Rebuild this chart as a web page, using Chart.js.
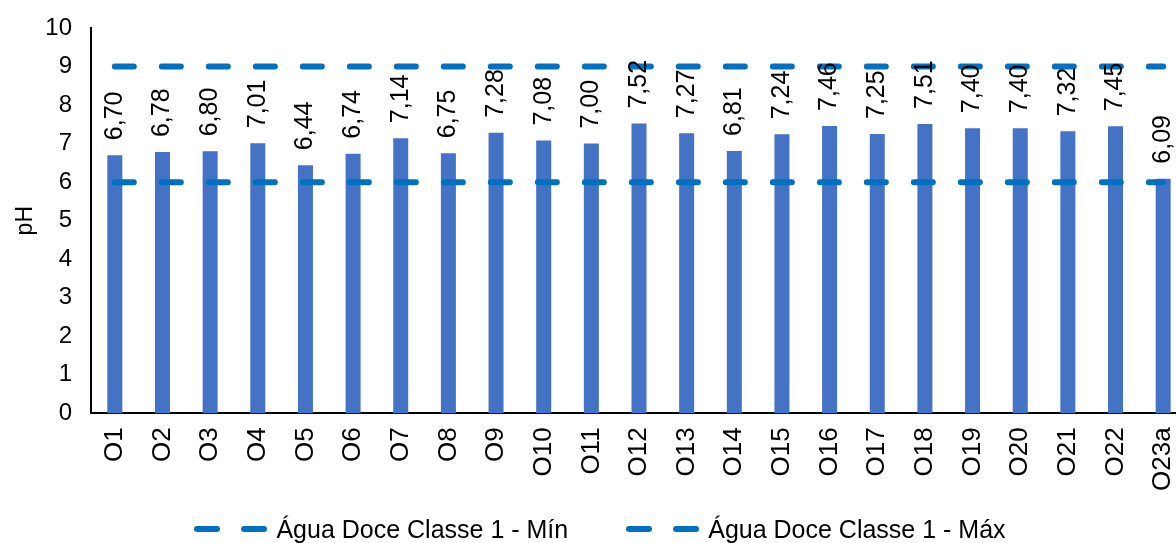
<!DOCTYPE html>
<html>
<head>
<meta charset="utf-8">
<script src="https://cdn.jsdelivr.net/npm/chart.js@4"></script>
<style>
  html, body { margin: 0; padding: 0; background: #fff; overflow: hidden; }
  #wrap { position: absolute; left: 0; top: 0; width: 1200px; height: 543px; }
  #legenda {
    position: absolute; left: 0; top: 515px; width: 1200px; height: 28px;
    display: flex; justify-content: center; align-items: center;
    font: 25px Arial, "Liberation Sans", sans-serif; color: #000;
  }
  #legenda .item { display: flex; align-items: center; margin: 0 29px; white-space: nowrap; }
  #legenda .simbolo { display: flex; align-items: center; width: 73px; justify-content: space-between; margin-right: 9px; }
  #legenda .traco { display: block; width: 26px; height: 6px; border-radius: 3px; }
</style>
</head>
<body>
<div id="wrap">
  <canvas id="chart-ph" width="1200" height="543"></canvas>
  <div id="legenda"></div>
</div>
<script>
// dados de pH por ponto de coleta
const pontos = ['O1', 'O2', 'O3', 'O4', 'O5', 'O6', 'O7', 'O8', 'O9', 'O10', 'O11', 'O12',
    'O13', 'O14', 'O15', 'O16', 'O17', 'O18', 'O19', 'O20', 'O21', 'O22', 'O23a'];
const valoresPH = [6.70, 6.78, 6.80, 7.01, 6.44, 6.74, 7.14, 6.75, 7.28, 7.08, 7.00, 7.52,
    7.27, 6.81, 7.24, 7.46, 7.25, 7.51, 7.40, 7.40, 7.32, 7.45, 6.09];
const limiteMin = pontos.map(() => 6);
const limiteMax = pontos.map(() => 9);
const ticksY = [0, 1, 2, 3, 4, 5, 6, 7, 8, 9, 10];

const fonte = 'Arial, "Liberation Sans", sans-serif';

// rótulos verticais acima das barras (vírgula decimal)
const rotulosBarras = {
    id: 'rotulosBarras',
    afterDatasetsDraw(chart) {
        const ctx = chart.ctx;
        const meta = chart.getDatasetMeta(2);
        ctx.save();
        ctx.font = '25px ' + fonte;
        ctx.fillStyle = '#000';
        ctx.textAlign = 'left';
        ctx.textBaseline = 'middle';
        meta.data.forEach((bar, i) => {
            ctx.save();
            ctx.translate(bar.x, bar.y - 15);
            ctx.rotate(-Math.PI / 2);
            ctx.fillText(valoresPH[i].toFixed(2).replace('.', ','), 0, 0);
            ctx.restore();
        });
        ctx.restore();
    }
};

// legenda em HTML (só as duas linhas de limite)
const legendaHtml = {
    id: 'legendaHtml',
    afterUpdate(chart) {
        const box = document.getElementById('legenda');
        box.innerHTML = '';
        const itens = Chart.defaults.plugins.legend.labels.generateLabels(chart)
            .filter(it => it.datasetIndex < 2);
        itens.forEach(it => {
            const item = document.createElement('div');
            item.className = 'item';
            const simbolo = document.createElement('span');
            simbolo.className = 'simbolo';
            for (let k = 0; k < 2; k++) {
                const traco = document.createElement('span');
                traco.className = 'traco';
                traco.style.background = it.strokeStyle;
                simbolo.appendChild(traco);
            }
            const texto = document.createElement('span');
            texto.textContent = it.text;
            item.appendChild(simbolo);
            item.appendChild(texto);
            box.appendChild(item);
        });
    }
};

const linhaBase = {
    type: 'line',
    borderColor: '#0070C0',
    backgroundColor: '#0070C0',
    borderWidth: 6,
    borderDash: [19, 28],
    borderCapStyle: 'round',
    pointRadius: 0,
    fill: false,
    order: 0
};

new Chart(document.getElementById('chart-ph').getContext('2d'), {
    type: 'bar',
    data: {
        labels: pontos,
        datasets: [
            Object.assign({ label: 'Água Doce Classe 1 - Mín', data: limiteMin }, linhaBase),
            Object.assign({ label: 'Água Doce Classe 1 - Máx', data: limiteMax }, linhaBase),
            {
                label: 'pH',
                data: valoresPH,
                backgroundColor: '#4472C4',
                barPercentage: 0.63,
                categoryPercentage: 0.5,
                order: 1
            }
        ]
    },
    options: {
        responsive: false,
        animation: false,
        layout: { padding: { left: 12, right: 13, top: 28, bottom: 38 } },
        plugins: {
            legend: { display: false },
            tooltip: { enabled: false }
        },
        scales: {
            x: {
                grid: { display: false, drawTicks: false },
                border: { display: true, color: '#000', width: 2 },
                ticks: {
                    font: { family: fonte, size: 26 },
                    color: '#000',
                    maxRotation: 90,
                    minRotation: 90,
                    autoSkip: false,
                    padding: 14
                },
                afterFit: (axis) => { axis.paddingLeft = 0; axis.paddingRight = 0; }
            },
            y: {
                min: 0,
                max: 10,
                afterBuildTicks: (axis) => { axis.ticks = ticksY.map(v => ({ value: v })); },
                afterFit: (axis) => { axis.paddingTop = 0; axis.paddingBottom = 0; axis.width = 79; },
                grid: { display: false, drawTicks: false },
                border: { display: true, color: '#000', width: 2 },
                title: {
                    display: true,
                    text: 'pH',
                    font: { family: fonte, size: 23 },
                    color: '#000',
                    padding: { top: 0, bottom: 2 }
                },
                ticks: {
                    font: { family: fonte, size: 24 },
                    color: '#000',
                    padding: 19
                }
            }
        }
    },
    plugins: [rotulosBarras, legendaHtml]
});
</script>
</body>
</html>
